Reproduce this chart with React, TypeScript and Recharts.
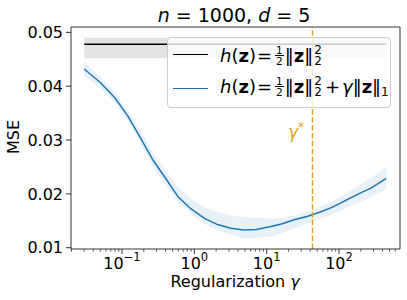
import { ComposedChart, Area, Line, XAxis, YAxis, ReferenceLine, Legend } from 'recharts';

// regularization strengths (log-spaced) and the MSE curve with its spread band
const GAMMA = [0.03, 0.05, 0.08, 0.12, 0.18, 0.27, 0.4, 0.6, 0.9, 1.4, 2.1, 3.2, 4.8, 7.2, 11, 16, 24, 36, 54, 80, 120, 180, 280, 450];
const L1_MEAN = [0.0432, 0.0407, 0.0378, 0.0345, 0.0304, 0.0262, 0.0229, 0.0194, 0.0172, 0.0154, 0.0143, 0.0136, 0.0133, 0.0134, 0.0139, 0.0144, 0.0152, 0.0158, 0.0166, 0.0175, 0.0187, 0.0199, 0.0211, 0.0229];
const L1_LO = [0.042, 0.0396, 0.0369, 0.0336, 0.0292, 0.025, 0.0216, 0.0184, 0.0162, 0.0144, 0.0133, 0.0124, 0.0118, 0.0118, 0.0121, 0.0127, 0.0136, 0.0145, 0.0153, 0.0162, 0.0173, 0.0183, 0.0194, 0.021];
const L1_HI = [0.0445, 0.0418, 0.0388, 0.0355, 0.0318, 0.0276, 0.0244, 0.0212, 0.019, 0.0175, 0.0166, 0.016, 0.0157, 0.0155, 0.0154, 0.0155, 0.016, 0.0167, 0.0175, 0.0186, 0.0199, 0.0214, 0.023, 0.0251];

// plain squared-norm baseline does not depend on gamma
const BASE_MEAN = 0.0478;
const BASE_LO = 0.0452;
const BASE_HI = 0.049;

const GAMMA_STAR = 43;

const X_MIN = 0.0197;
const X_MAX = 697;
const Y_MIN = 0.00976;
const Y_MAX = 0.051;

const X_MAJOR = [0.1, 1, 10, 100];
const X_MAJOR_EXP = ['\u22121', '0', '1', '2'];
const X_MINOR = [0.02, 0.03, 0.04, 0.05, 0.06, 0.07, 0.08, 0.09, 0.2, 0.3, 0.4, 0.5, 0.6, 0.7, 0.8, 0.9, 2, 3, 4, 5, 6, 7, 8, 9, 20, 30, 40, 50, 60, 70, 80, 90, 200, 300, 400, 500, 600];
const Y_TICKS = [0.01, 0.02, 0.03, 0.04, 0.05];

const BLUE = '#1f77b4';
const GOLD = '#daa520';
const FONT = '"DejaVu Sans", sans-serif';

const data = GAMMA.map((g, i) => ({
    g,
    l1: L1_MEAN[i],
    l1Band: [L1_LO[i], L1_HI[i]],
    base: BASE_MEAN,
    baseBand: [BASE_LO, BASE_HI],
}));

function LogTick({ x, y, payload }: any) {
    const idx = X_MAJOR.indexOf(payload.value);
    const major = idx >= 0;
    return (
        <g>
            <line x1={x} x2={x} y1={y} y2={y + (major ? 5 : 2.8)} stroke="#000" strokeWidth={major ? 0.8 : 0.6} />
            {major && (
                <text x={x} y={y + 19.5} textAnchor="middle" fontSize={16} fontFamily={FONT} fill="#000">
                    10<tspan dy={-7.5} fontSize={11.5}>{X_MAJOR_EXP[idx]}</tspan>
                </text>
            )}
        </g>
    );
}

const Frac = () => (
    <span style={{ display: 'inline-flex', flexDirection: 'column', alignItems: 'center', fontSize: 10.5, lineHeight: '10px', verticalAlign: 8, margin: '0 1px 0 2px' }}>
        <span>1</span>
        <span style={{ borderTop: '0.8px solid #000', padding: '0 1px' }}>2</span>
    </span>
);

const SupSub = () => (
    <span style={{ display: 'inline-flex', flexDirection: 'column', fontSize: 12, lineHeight: '11px', verticalAlign: 8, marginLeft: 1 }}>
        <span>2</span>
        <span>2</span>
    </span>
);

const Formula = ({ withL1 }: { withL1?: boolean }) => (
    <span style={{ whiteSpace: 'nowrap', lineHeight: '22px' }}>
        <i>h</i>(<b>z</b>)<span style={{ margin: '0 1px' }}>=</span>
        <Frac />
        {'\u2016'}<b>z</b>{'\u2016'}
        <SupSub />
        {withL1 && (
            <>
                <span style={{ margin: '0 2px 0 3px' }}>+</span>
                <i>γ</i>{'\u2016'}<b>z</b>{'\u2016'}
                <span style={{ fontSize: 12, verticalAlign: -3 }}>1</span>
            </>
        )}
    </span>
);

const LegendBox = () => {
    const rows = [
        { color: '#000', top: 16, l1: false },
        { color: BLUE, top: 50, l1: true },
    ];
    return (
        <div style={{ position: 'relative', width: 224, height: 71, boxSizing: 'border-box', background: 'rgba(255,255,255,0.8)', border: '1px solid #ccc', borderRadius: 4, fontFamily: FONT, fontSize: 18, color: '#000' }}>
            {rows.map((r) => (
                <div key={r.color} style={{ position: 'absolute', left: 5, top: r.top - 12, height: 24, display: 'flex', alignItems: 'center' }}>
                    <div style={{ width: 35, borderTop: `1.5px solid ${r.color}`, marginRight: 12 }} />
                    <div style={{ position: 'relative', top: 1.5 }}>
                        <Formula withL1={r.l1} />
                    </div>
                </div>
            ))}
        </div>
    );
};

export default function App() {
    return (
        <div style={{ position: 'absolute', left: 0, top: 0, width: 407, height: 300, background: '#fff' }}>
            <ComposedChart width={407} height={300} data={data} margin={{ top: 27, right: 7, bottom: 0, left: 0 }}>
                <XAxis
                    dataKey="g"
                    type="number"
                    scale="log"
                    domain={[X_MIN, X_MAX]}
                    allowDataOverflow
                    ticks={[...X_MAJOR, ...X_MINOR]}
                    interval={0}
                    tick={<LogTick />}
                    tickLine={false}
                    tickSize={0}
                    tickMargin={0}
                    height={51}
                    axisLine={{ stroke: '#000', strokeWidth: 0.8 }}
                />
                <YAxis
                    type="number"
                    domain={[Y_MIN, Y_MAX]}
                    allowDataOverflow
                    ticks={Y_TICKS}
                    interval={0}
                    width={71}
                    tickSize={5}
                    tickMargin={3}
                    tickFormatter={(v) => v.toFixed(2)}
                    tick={{ fill: '#000', fontSize: 16, fontFamily: FONT }}
                    tickLine={{ stroke: '#000', strokeWidth: 0.8 }}
                    axisLine={{ stroke: '#000', strokeWidth: 0.8 }}
                />
                <Area dataKey="baseBand" stroke="none" fill="#000" fillOpacity={0.11} isAnimationActive={false} />
                <Area dataKey="l1Band" stroke="none" fill={BLUE} fillOpacity={0.1} isAnimationActive={false} />
                <Line dataKey="base" stroke="#000" strokeWidth={1.5} dot={false} isAnimationActive={false} />
                <Line dataKey="l1" stroke={BLUE} strokeWidth={1.5} dot={false} isAnimationActive={false} />
                <ReferenceLine x={GAMMA_STAR} stroke={GOLD} strokeWidth={1.5} strokeDasharray="5.5 2.4" />
                <ReferenceLine y={Y_MAX} stroke="#000" strokeWidth={0.8} />
                <ReferenceLine x={X_MAX} stroke="#000" strokeWidth={0.8} />
                <Legend
                    layout="horizontal"
                    align="center"
                    verticalAlign="middle"
                    content={<LegendBox />}
                    wrapperStyle={{ left: 167, top: 37, width: 224, height: 71 }}
                />
            </ComposedChart>
            <svg width={407} height={300} style={{ position: 'absolute', left: 0, top: 0, pointerEvents: 'none' }} fontFamily={FONT}>
                <text x={234} y={22} textAnchor="middle" fontSize={19} fill="#000">
                    <tspan fontStyle="italic">n</tspan> = 1000, <tspan fontStyle="italic">d</tspan> = 5
                </text>
                <text transform="translate(19,137) rotate(-90)" textAnchor="middle" fontSize={16} fill="#000">MSE</text>
                <text x={235} y={287} textAnchor="middle" fontSize={16} fill="#000">
                    Regularization <tspan fontStyle="italic">γ</tspan>
                </text>
                <text x={288} y={137.5} fontSize={17} fill={GOLD}>
                    <tspan fontStyle="italic">γ</tspan>
                    <tspan dy={-7} fontSize={12}>*</tspan>
                </text>
            </svg>
        </div>
    );
}
